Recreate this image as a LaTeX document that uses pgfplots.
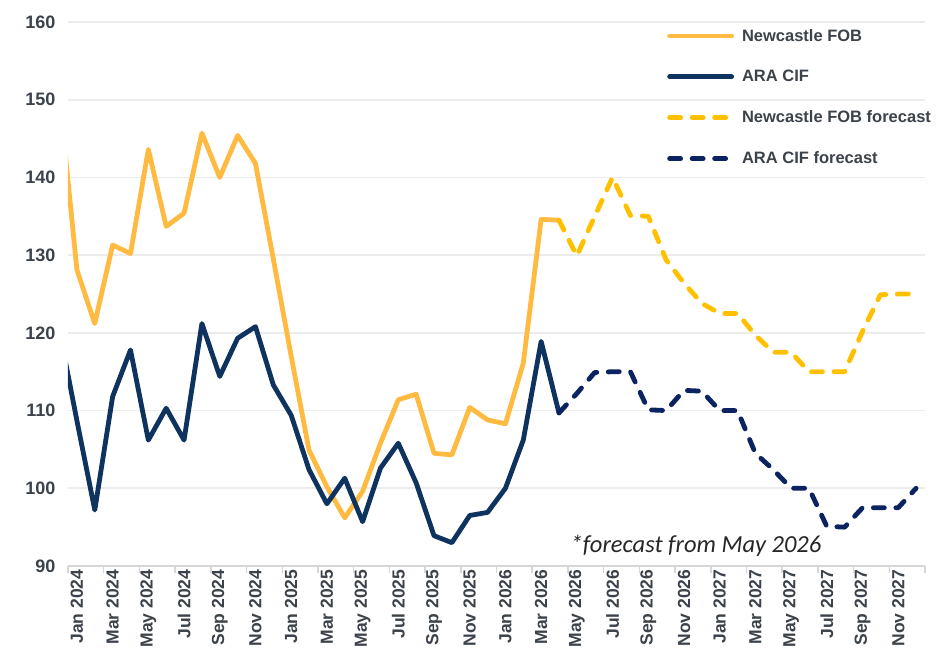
\documentclass[border=0pt]{standalone}
\usepackage{pgfplots}
\pgfplotsset{compat=1.18}
\usepackage{fontspec}
\setmainfont{Liberation Sans}
\newfontfamily\notefont{Carlito}
\definecolor{fob}{HTML}{FFBA42}
\definecolor{fobf}{HTML}{FFC000}
\definecolor{ara}{HTML}{0E335E}
\definecolor{araf}{HTML}{0B2361}
\definecolor{txt}{HTML}{3C424A}
\definecolor{gridc}{HTML}{ECECEC}
\definecolor{axisc}{HTML}{D6D6D6}

\pgfplotstableread{
x y
-1 151.0
0 128.1
1 121.2
2 131.3
3 130.2
4 143.6
5 133.7
6 135.4
7 145.7
8 140.0
9 145.4
10 141.8
11 129.5
12 117.0
13 104.9
14 100.2
15 96.2
16 99.6
17 105.8
18 111.4
19 112.1
20 104.5
21 104.3
22 110.4
23 108.8
24 108.3
25 116.1
26 134.6
27 134.5
}\fobtable

\pgfplotstableread{
x y
-1 120.5
0 108.7
1 97.2
2 111.8
3 117.8
4 106.2
5 110.3
6 106.2
7 121.2
8 114.4
9 119.3
10 120.8
11 113.3
12 109.4
13 102.4
14 98.0
15 101.3
16 95.7
17 102.6
18 105.8
19 100.7
20 93.9
21 93.0
22 96.5
23 96.9
24 100.0
25 106.2
26 118.9
27 109.7
}\aratable

\pgfplotstableread{
x y
27 134.5
28 129.9
29 135.0
30 140.0
31 135.1
32 135.0
33 129.4
34 126.4
35 123.8
36 122.5
37 122.5
38 119.7
39 117.5
40 117.5
41 115.0
42 115.0
43 115.0
44 120.2
45 124.9
46 125.0
47 125.0
}\fobftable

\pgfplotstableread{
x y
27 109.7
28 112.2
29 114.9
30 115.0
31 115.0
32 110.1
33 110.0
34 112.6
35 112.5
36 110.0
37 110.0
38 104.5
39 102.4
40 100.0
41 100.0
42 95.1
43 95.0
44 97.5
45 97.5
46 97.5
47 100.0
}\araftable

\begin{document}
\begin{tikzpicture}
\path[use as bounding box] (-68pt,-104pt) rectangle (874pt,566pt);
\begin{axis}[
  at={(0pt,0pt)}, anchor=south west,
  scale only axis, width=857pt, height=544pt,
  xmin=-0.5, xmax=47.5, ymin=90, ymax=160,
  ytick={90,100,...,160},
  xtick={0,2,...,46},
  xticklabels={Jan 2024,Mar 2024,May 2024,Jul 2024,Sep 2024,Nov 2024,
    Jan 2025,Mar 2025,May 2025,Jul 2025,Sep 2025,Nov 2025,
    Jan 2026,Mar 2026,May 2026,Jul 2026,Sep 2026,Nov 2026,
    Jan 2027,Mar 2027,May 2027,Jul 2027,Sep 2027,Nov 2027},
  minor xtick={-0.5,1.5,...,47.5},
  axis x line*=bottom, axis y line*=left,
  axis line style={-},
  x axis line style={axisc, line width=2pt},
  y axis line style={draw=none},
  tick align=outside,
  major tick length=0pt,
  minor tick length=7pt,
  minor x tick style={axisc, line width=1.5pt},
  ymajorgrids, grid style={gridc, line width=1.8pt},
  /pgf/number format/assume math mode=true,
  tick label style={text=txt},
  y tick label style={font=\bfseries\fontsize{18}{20}\selectfont, xshift=-9pt},
  x tick label style={rotate=90, anchor=east, font=\bfseries\fontsize{17.5}{19}\selectfont, xshift=0pt},
  legend style={at={(0.6955,0.9945)}, anchor=north west, draw=none, fill=none,
    font=\bfseries\fontsize{16.5}{18}\selectfont, text=txt, row sep=23.6pt,
    /tikz/every odd column/.append style={column sep=6pt}},
  legend cell align=left,
  legend image code/.code={\draw[#1] (0pt,0pt) -- (62pt,0pt);},
  every axis plot/.append style={line width=4.8pt, line join=round},
]
\addplot[fob, line cap=round] table[x=x,y=y] {\fobtable};
\addlegendentry{Newcastle FOB}
\addplot[ara, line cap=round] table[x=x,y=y] {\aratable};
\addlegendentry{ARA CIF}
\addplot[fobf, line cap=round, dash pattern=on 11pt off 11.5pt] table[x=x,y=y] {\fobftable};
\addlegendentry{Newcastle FOB forecast}
\addplot[araf, line cap=round, dash pattern=on 11pt off 11.5pt] table[x=x,y=y] {\araftable};
\addlegendentry{ARA CIF forecast}
\node[anchor=base west, font=\notefont\itshape\fontsize{24.5}{27}\selectfont, text=black!85] at (axis cs:27.45,91.8) {*forecast from May 2026};
\end{axis}
\end{tikzpicture}
\end{document}
